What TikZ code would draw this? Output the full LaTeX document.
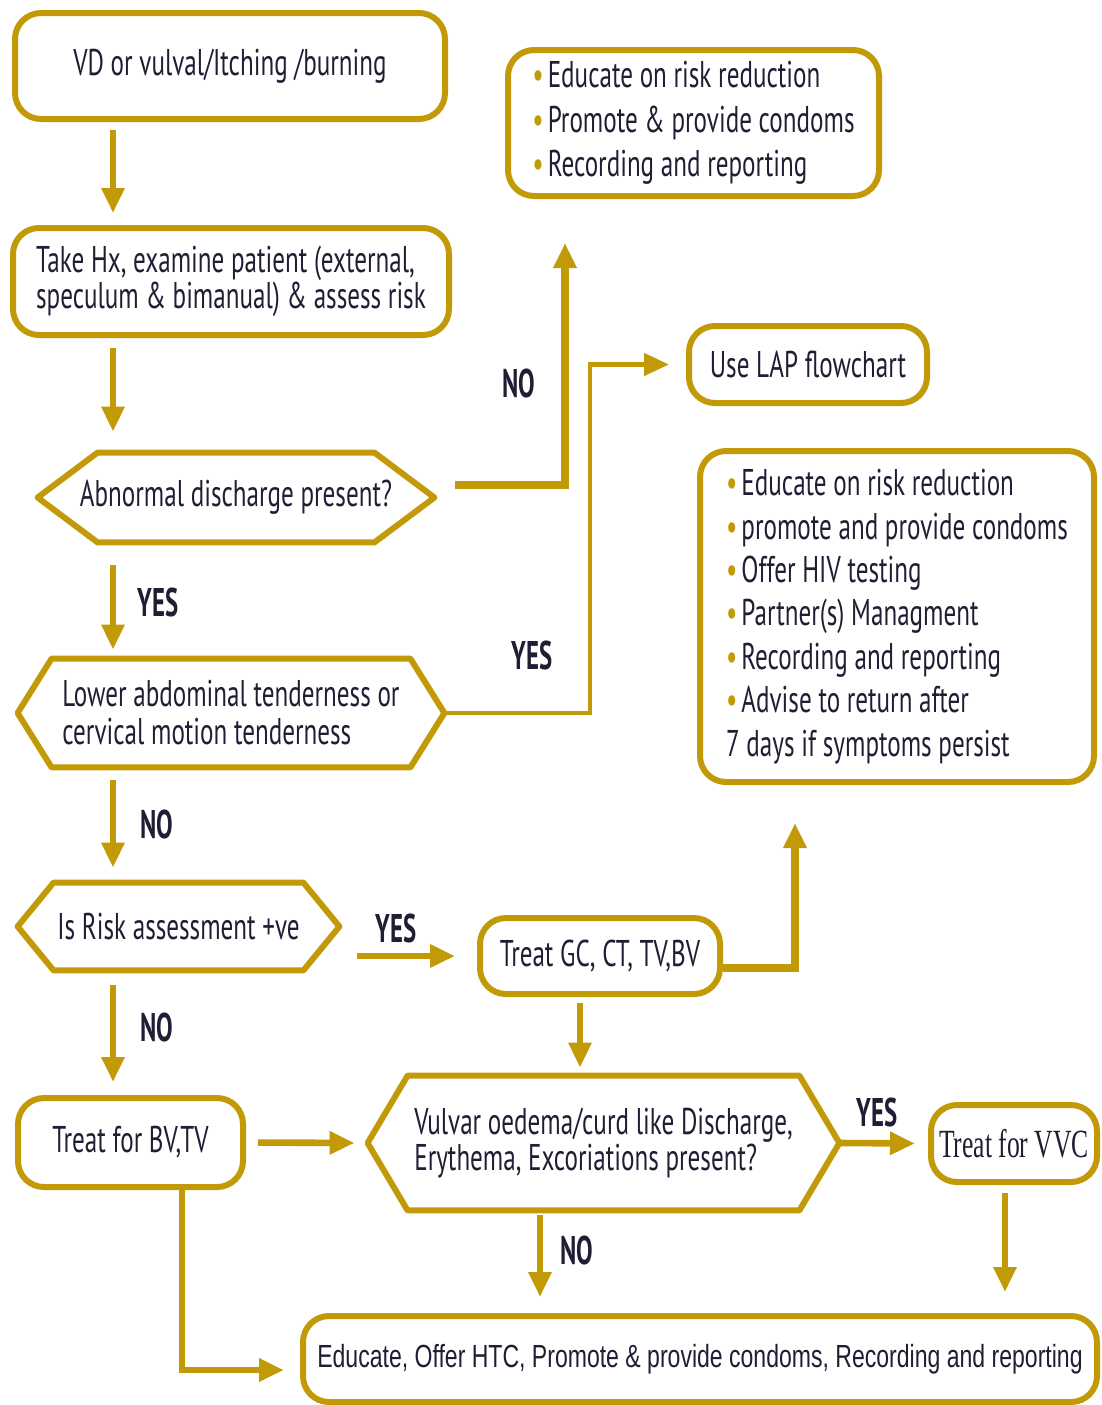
\documentclass[tikz,border=0pt]{standalone}
\usepackage{fontspec}
\setmainfont{PT Sans}[FakeStretch=0.675]
\newfontfamily\labelfont{PT Sans}[FakeStretch=0.62]
\newfontfamily\vvcfont{Liberation Serif}[FakeStretch=0.64]
\newfontfamily\narrowfont{Liberation Sans}[FakeStretch=0.72]
\usetikzlibrary{arrows.meta,calc}
\definecolor{gold}{RGB}{194,154,8}
\definecolor{ink}{RGB}{32,30,52}
\newcommand\bul{{\color{gold}\textbullet}\kern2pt}
% hexagonal decision outline around a (borderless) rectangular node
\newcommand\hexoutline[2]{%
  \draw[gold, line width=3pt, line join=round, fill=white]
    (#1.west) -- ([xshift=#2]#1.north west) -- ([xshift=-#2]#1.north east)
    -- (#1.east) -- ([xshift=-#2]#1.south east) -- ([xshift=#2]#1.south west) -- cycle;}
\begin{document}
\begin{tikzpicture}[x=0.5pt,y=-0.5pt,
  every node/.style={text=ink},
  box/.style={draw=gold, line width=3pt, rounded corners=13pt, fill=white,
    inner sep=0pt, align=center, font=\fontsize{18.6}{18}\selectfont},
  hexnode/.style={inner sep=0pt, align=left, font=\fontsize{18.6}{18}\selectfont},
  conn/.style={draw=gold, line width=3.3pt,
    -{Triangle[length=12.5pt,width=11pt]}},
  tag/.style={font=\labelfont\bfseries\fontsize{20}{20}\selectfont}]
\useasboundingbox (0,0) rectangle (1102,1405);
\clip (0,0) rectangle (1102,1405);
\fill[white] (0,0) rectangle (1102,1405);

% column guides for the vertical connectors
\coordinate (colA) at (113,0);
\coordinate (colB) at (565,0);
\coordinate (colC) at (590,0);
\coordinate (colD) at (580,0);
\coordinate (colE) at (795,0);
\coordinate (colF) at (540,0);
\coordinate (colG) at (1005,0);
\coordinate (colH) at (182,0);

% boxes
\node[box, minimum width=215pt, minimum height=53pt] (start) at (230,66)
  {VD or vulval/Itching /burning};
\node[box, minimum width=218pt, minimum height=53.5pt, align=left] (hx) at (231,281.5)
  {Take Hx, examine patient (external,\\speculum \& bimanual) \& assess risk};
\node[box, minimum width=185.5pt, minimum height=73pt, align=left,
  font=\fontsize{18.6}{22.2}\selectfont] (edu1) at (693.5,123)
  {\bul Educate on risk reduction\\\bul Promote \& provide condoms\\\bul Recording and reporting};
\node[box, minimum width=119pt, minimum height=38.5pt] (lap) at (808,364.5)
  {Use LAP flowchart};
\node[box, minimum width=197pt, minimum height=165.5pt, align=left,
  font=\fontsize{18.6}{21.7}\selectfont] (edu2) at (897,616.5)
  {\bul Educate on risk reduction\\\bul promote and provide condoms\\\bul Offer HIV testing\\
   \bul Partner(s) Managment\\\bul Recording and reporting\\\bul Advise to return after\\
   7 days if symptoms persist};
\node[box, minimum width=120pt, minimum height=38pt] (gc) at (600,956)
  {Treat GC, CT, TV,BV};
\node[box, minimum width=112.5pt, minimum height=44.5pt] (bvtv) at (130.5,1142.5)
  {Treat for BV,TV};
\node[box, minimum width=83pt, minimum height=38.5pt,
  font=\vvcfont\fontsize{20}{20}\selectfont] (vvc) at (1014,1143.5)
  {Treat for VVC};
\node[box, minimum width=397pt, minimum height=43pt,
  font=\narrowfont\fontsize{16}{16}\selectfont] (final) at (700,1359)
  {\raisebox{1pt}{Educate, Offer HTC, Promote \& provide condoms, Recording and reporting}};

% decisions
\node[hexnode, minimum width=198pt, minimum height=44.5pt] (disch) at (236,497.5) {};
\hexoutline{disch}{30pt}
\node[hexnode] at (disch) {Abnormal discharge present?};
\node[hexnode, minimum width=213pt, minimum height=54pt] (tender) at (231,713) {};
\hexoutline{tender}{17pt}
\node[hexnode, font=\fontsize{18.6}{19}\selectfont] at (tender)
  {Lower abdominal tenderness or\\cervical motion tenderness};
\node[hexnode, minimum width=160.5pt, minimum height=43.5pt] (risk) at (178.5,926.5) {};
\hexoutline{risk}{18pt}
\node[hexnode] at (risk) {Is Risk assessment +ve};
\node[hexnode, minimum width=235.5pt, minimum height=67pt] (vulvar) at (603.5,1143) {};
\hexoutline{vulvar}{20pt}
\node[hexnode] at (vulvar)
  {Vulvar oedema/curd like Discharge,\\Erythema, Excoriations present?};

% connectors
\draw[conn, shorten <=4pt, shorten >=6pt] (start.south -| colA) -- (hx.north -| colA);
\draw[conn, shorten <=5pt, shorten >=10.5pt] (hx.south -| colA) -- (disch.north -| colA);
\draw[conn, shorten <=11.5pt, shorten >=4.5pt] (disch.south -| colA) -- (tender.north -| colA);
\draw[conn, shorten <=6.5pt, shorten >=7.5pt] (tender.south -| colA) -- (risk.north -| colA);
\draw[conn, shorten <=7.5pt, shorten >=6.5pt] (risk.south -| colA) -- (bvtv.north -| colA);

\draw[conn, line width=3.6pt, shorten >=22pt]
  ([xshift=10.5pt,yshift=6.25pt]disch.east) -| (colB |- edu1.south);
\draw[conn, line width=2.4pt, shorten >=8.5pt]
  (tender.east) -| (colC |- lap.west) -- (lap.west);
\draw[conn, shorten <=9pt, shorten >=11pt] (risk.east |- gc.west) -- (gc.west);
\draw[conn, line width=3.6pt, shorten >=19pt]
  ([yshift=-6pt]gc.east) -| (colE |- edu2.south);
\draw[conn, shorten <=3pt, shorten >=4pt] (gc.south -| colD) -- (vulvar.north -| colD);
\draw[conn, shorten <=6pt, shorten >=6.5pt] (bvtv.east) -- (vulvar.west);
\draw[conn, shorten >=6.5pt] (vulvar.east) -- (vvc.west);
\draw[conn, shorten <=2.5pt, shorten >=8pt] (vulvar.south -| colF) -- (final.north -| colF);
\draw[conn, shorten <=4pt, shorten >=10.5pt] (vvc.south -| colG) -- (final.north -| colG);
\draw[conn, shorten >=8pt] (bvtv.south -| colH) |- ([yshift=-5.5pt]final.west);

% branch labels
\node[tag] (noA) at (519,383) {NO};
\node[tag] (yesA) at (158,602) {YES};
\node[tag] (yesB) at (532,655) {YES};
\node[tag] (noB) at (157,824) {NO};
\node[tag] (yesC) at (396,928) {YES};
\node[tag] (noC) at (157,1027) {NO};
\node[tag] (yesD) at (877,1112) {YES};
\node[tag] (noD) at (577,1250) {NO};
\end{tikzpicture}
\end{document}
